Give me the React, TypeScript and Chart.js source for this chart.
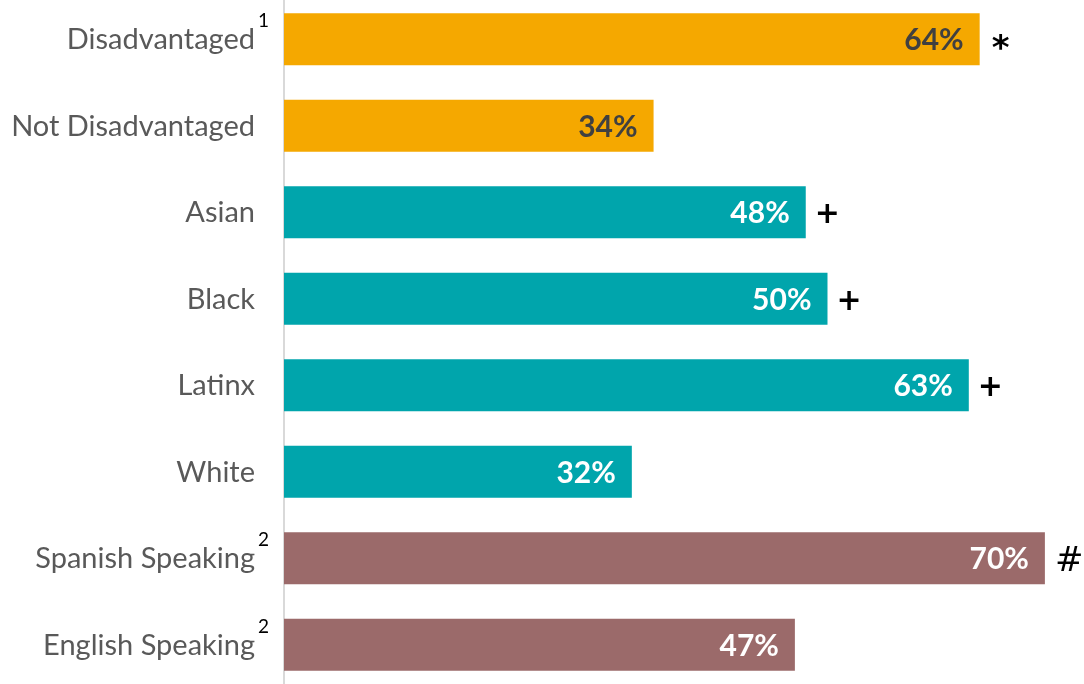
import React, { useEffect, useRef } from "react";
import { Chart, registerables } from "chart.js";

Chart.register(...registerables);

const categories = [
  "Disadvantaged",
  "Not Disadvantaged",
  "Asian",
  "Black",
  "Latinx",
  "White",
  "Spanish Speaking",
  "English Speaking",
];
const superscripts = ["1", "", "", "", "", "", "2", "2"];
const values = [64, 34, 48, 50, 63, 32, 70, 47];
const markers = ["*", "", "+", "+", "+", "", "#", ""];
const barColors = [
  "#F5A800",
  "#F5A800",
  "#00A5AC",
  "#00A5AC",
  "#00A5AC",
  "#00A5AC",
  "#9B6A6A",
  "#9B6A6A",
];
const valueLabelColors = [
  "#404040",
  "#404040",
  "#FFFFFF",
  "#FFFFFF",
  "#FFFFFF",
  "#FFFFFF",
  "#FFFFFF",
  "#FFFFFF",
];

const FONT = "Lato, 'Open Sans', sans-serif";

const labelPlugin = {
  id: "customLabels",
  afterDatasetsDraw(chart: any) {
    const ctx = chart.ctx;
    const meta = chart.getDatasetMeta(0);
    const yScale = chart.scales.y;
    const area = chart.chartArea;
    ctx.save();
    meta.data.forEach((bar: any, i: number) => {
      const cy = yScale.getPixelForValue(i);
      // category label
      ctx.font = `29px ${FONT}`;
      ctx.fillStyle = "#595959";
      ctx.textAlign = "right";
      ctx.textBaseline = "alphabetic";
      const labelRight = area.left - 29;
      ctx.fillText(categories[i], labelRight, cy + 10);
      if (superscripts[i]) {
        ctx.font = `19px ${FONT}`;
        ctx.fillStyle = "#000000";
        ctx.textAlign = "left";
        ctx.fillText(superscripts[i], labelRight + 3, cy - 12);
      }
      // value label
      ctx.font = `bold 30px ${FONT}`;
      ctx.fillStyle = valueLabelColors[i];
      ctx.textAlign = "right";
      ctx.fillText(values[i] + "%", bar.x - 16, cy + 11);
      // significance marker, centred vertically on its target
      if (markers[i]) {
        const m = markers[i];
        const font =
          m === "#"
            ? `34px 'DejaVu Sans', sans-serif`
            : `bold ${m === "*" ? 34 : 30}px 'DejaVu Sans', sans-serif`;
        ctx.font = font;
        ctx.fillStyle = "#000000";
        ctx.textAlign = "left";
        ctx.textBaseline = "alphabetic";
        const tm = ctx.measureText(m);
        const asc = tm.actualBoundingBoxAscent;
        const desc = tm.actualBoundingBoxDescent;
        const targetCenter = m === "*" ? cy + 3 : m === "+" ? cy + 1 : cy;
        const baseline = targetCenter + (asc - desc) / 2;
        const left = bar.x + 12 + (tm.actualBoundingBoxLeft || 0);
        ctx.fillText(m, left, baseline);
      }
    });
    ctx.restore();
  },
};

export default function App() {
  const canvasRef = useRef<HTMLCanvasElement | null>(null);

  useEffect(() => {
    if (!canvasRef.current) return;
    const chart = new Chart(canvasRef.current, {
      type: "bar",
      data: {
        labels: categories,
        datasets: [
          {
            data: values,
            backgroundColor: barColors,
            borderWidth: 0,
            categoryPercentage: 1,
            barPercentage: 0.6,
          },
        ],
      },
      options: {
        indexAxis: "y",
        animation: false,
        responsive: false,
        maintainAspectRatio: false,
        layout: { padding: { left: 0, right: 6.5, top: 0, bottom: 0 } },
        plugins: {
          legend: { display: false },
          tooltip: { enabled: false },
        },
        scales: {
          x: {
            display: false,
            min: 0,
            max: 73,
          },
          y: {
            display: true,
            grid: { display: false, drawTicks: false },
            ticks: { display: false },
            border: { display: true, color: "#D9D9D9", width: 2 },
            afterFit: (scale: any) => {
              scale.width = 284;
            },
          },
        },
      },
      plugins: [labelPlugin],
    });
    return () => chart.destroy();
  }, []);

  return (
    <div style={{ position: "fixed", left: 0, top: 0, width: 1084, height: 684, overflow: "hidden", background: "#fff" }}>
      <canvas
        ref={canvasRef}
        width={1084}
        height={692}
        style={{ position: "absolute", left: 0, top: -4, width: 1084, height: 692 }}
      />
    </div>
  );
}
